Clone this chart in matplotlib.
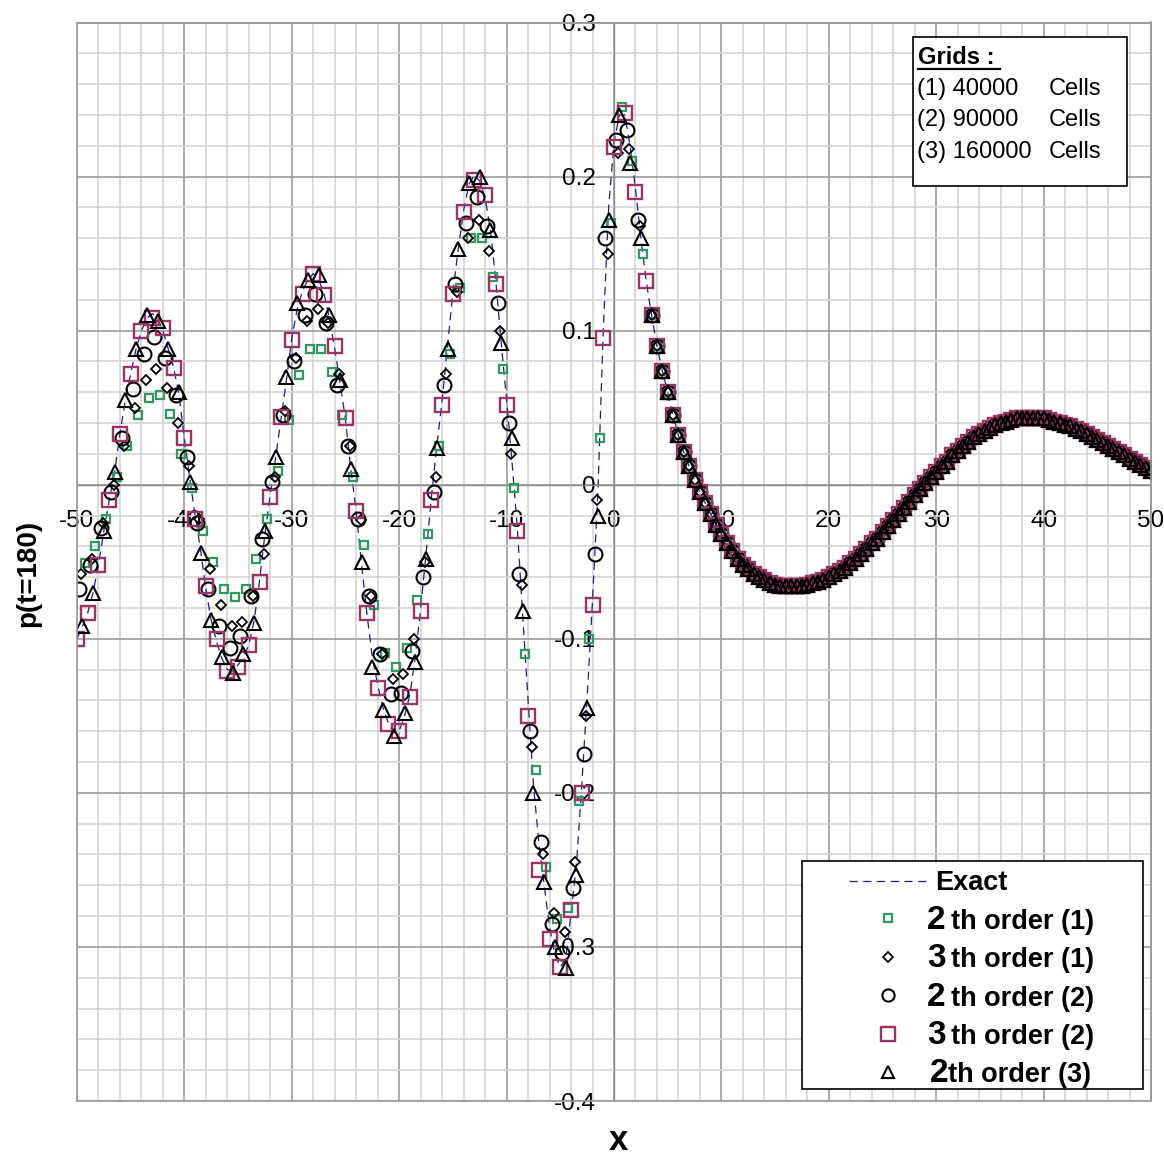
import numpy as np
import matplotlib
matplotlib.use('Agg')
import matplotlib.pyplot as plt
from matplotlib.ticker import MultipleLocator, FuncFormatter
from matplotlib.lines import Line2D
from matplotlib.patches import Rectangle

plt.rcParams['font.family'] = ['Liberation Sans', 'DejaVu Sans']
plt.rcParams['axes.unicode_minus'] = False

# ---------------- data ----------------
# exact solution, left part: x = -50 .. 3, step 0.5
exact_left = [
    -0.100, -0.092, -0.083, -0.070, -0.052, -0.030, -0.010, 0.008, 0.033, 0.055,
    0.072, 0.088, 0.100, 0.108, 0.111, 0.108, 0.100, 0.088, 0.076, 0.058,
    0.030, 0.004, -0.020, -0.042, -0.068, -0.088, -0.102, -0.113, -0.120, -0.121,
    -0.117, -0.112, -0.104, -0.088, -0.062, -0.032, -0.006, 0.018, 0.043, 0.068,
    0.095, 0.114, 0.126, 0.133, 0.137, 0.133, 0.124, 0.108, 0.088, 0.066,
    0.042, 0.010, -0.018, -0.052, -0.084, -0.112, -0.130, -0.145, -0.155, -0.161,
    -0.160, -0.150, -0.136, -0.112, -0.080, -0.045, -0.008, 0.025, 0.055, 0.090,
    0.125, 0.153, 0.178, 0.195, 0.201, 0.197, 0.186, 0.165, 0.132, 0.092,
    0.055, 0.015, -0.028, -0.085, -0.140, -0.195, -0.232, -0.260, -0.287, -0.305,
    -0.313, -0.308, -0.278, -0.247, -0.195, -0.138, -0.075, -0.005, 0.100, 0.180,
    0.222, 0.240, 0.240, 0.220, 0.192, 0.160, 0.132]
exact_left_x0 = -50.0

# common right part (all solutions coincide): x = 3.5 .. 50, step 0.5
tail = [
    0.110, 0.090, 0.074, 0.060, 0.045, 0.032, 0.021, 0.012, 0.003, -0.005,
    -0.012, -0.019, -0.026, -0.032, -0.038, -0.043, -0.048, -0.052, -0.055, -0.058,
    -0.060, -0.062, -0.064, -0.065, -0.066, -0.066, -0.066, -0.066, -0.066, -0.065,
    -0.064, -0.063, -0.062, -0.060, -0.058, -0.056, -0.054, -0.051, -0.048, -0.045,
    -0.042, -0.038, -0.035, -0.031, -0.027, -0.023, -0.019, -0.015, -0.011, -0.007,
    -0.003, 0.001, 0.005, 0.008, 0.012, 0.015, 0.019, 0.022, 0.025, 0.028,
    0.031, 0.033, 0.035, 0.037, 0.039, 0.040, 0.041, 0.042, 0.043, 0.043,
    0.043, 0.043, 0.043, 0.043, 0.042, 0.041, 0.040, 0.039, 0.038, 0.036,
    0.035, 0.033, 0.031, 0.029, 0.027, 0.025, 0.023, 0.021, 0.019, 0.017,
    0.015, 0.013, 0.011, 0.009]
tail_x0 = 3.5

# 2th order (1): x from -49.3, step 1
green_x0 = -49.3
green_y = [
    -0.051, -0.040, -0.022, 0.005, 0.025, 0.045, 0.056, 0.058, 0.046, 0.020,
    -0.002, -0.030, -0.050, -0.068, -0.073, -0.068, -0.048, -0.022, 0.009, 0.042,
    0.071, 0.088, 0.088, 0.073, 0.045, 0.005, -0.039, -0.078, -0.109, -0.118,
    -0.106, -0.075, -0.032, 0.025, 0.085, 0.128, 0.160, 0.160, 0.135, 0.075,
    -0.002, -0.110, -0.185, -0.248, -0.282, -0.275, -0.205, -0.100, 0.030, 0.170,
    0.245, 0.210, 0.150]

# 3th order (1): x from -49.6, step 1
diamond_x0 = -49.6
diamond_y = [
    -0.058, -0.048, -0.025, 0.000, 0.025, 0.050, 0.068, 0.075, 0.063, 0.040,
    0.012, -0.022, -0.055, -0.078, -0.092, -0.089, -0.072, -0.045, 0.005, 0.048,
    0.082, 0.106, 0.114, 0.105, 0.072, 0.025, -0.023, -0.072, -0.110, -0.126,
    -0.123, -0.100, -0.050, 0.005, 0.072, 0.125, 0.160, 0.172, 0.152, 0.100,
    0.020, -0.065, -0.170, -0.240, -0.278, -0.290, -0.245, -0.150, -0.010, 0.150,
    0.215, 0.218, 0.168]

# 2th order (2): x from -49.8, step 1
circle_x0 = -49.8
circle_y = [
    -0.068, -0.052, -0.028, -0.005, 0.030, 0.062, 0.085, 0.096, 0.082, 0.058,
    0.018, -0.025, -0.068, -0.092, -0.106, -0.098, -0.072, -0.035, 0.002, 0.045,
    0.080, 0.110, 0.124, 0.105, 0.065, 0.025, -0.022, -0.072, -0.110, -0.136,
    -0.135, -0.108, -0.060, -0.005, 0.065, 0.130, 0.170, 0.187, 0.168, 0.118,
    0.040, -0.058, -0.160, -0.232, -0.285, -0.304, -0.262, -0.175, -0.045, 0.160,
    0.224, 0.230, 0.172]

# 3th order (2): x from -50, step 1
magenta_x0 = -50.0
magenta_y = [
    -0.100, -0.083, -0.052, -0.010, 0.033, 0.072, 0.100, 0.108, 0.102, 0.076,
    0.030, -0.022, -0.066, -0.100, -0.121, -0.118, -0.104, -0.063, -0.008, 0.044,
    0.094, 0.124, 0.137, 0.123, 0.090, 0.043, -0.017, -0.083, -0.132, -0.155,
    -0.160, -0.138, -0.082, -0.010, 0.052, 0.124, 0.177, 0.198, 0.188, 0.130,
    0.052, -0.030, -0.150, -0.250, -0.295, -0.313, -0.276, -0.200, -0.078, 0.095,
    0.219, 0.241, 0.190, 0.132]

# 2th order (3): x from -49.5, step 1
triangle_x0 = -49.5
triangle_y = [
    -0.092, -0.070, -0.030, 0.008, 0.055, 0.088, 0.110, 0.106, 0.088, 0.060,
    0.002, -0.044, -0.088, -0.112, -0.122, -0.110, -0.090, -0.030, 0.018, 0.070,
    0.118, 0.133, 0.136, 0.110, 0.068, 0.010, -0.050, -0.118, -0.146, -0.163,
    -0.148, -0.115, -0.048, 0.024, 0.088, 0.153, 0.196, 0.200, 0.165, 0.092,
    0.030, -0.082, -0.200, -0.258, -0.300, -0.314, -0.253, -0.145, -0.020, 0.172,
    0.240, 0.209, 0.160]

x_ticks = [-50, -40, -30, -20, -10, 0, 10, 20, 30, 40, 50]
y_ticks = [-0.4, -0.3, -0.2, -0.1, 0.0, 0.1, 0.2, 0.3]

grid_cells = ['(1) 40000', '(2) 90000', '(3) 160000']
legend_digits = ['2', '3', '2', '3', '2']
legend_texts = ['th order (1)', 'th order (1)', 'th order (2)', 'th order (2)', 'th order (3)']

# ---------------- figure ----------------
W, H = 1164, 1161
fig = plt.figure(figsize=(W / 100, H / 100), dpi=100)
fig.patch.set_facecolor('white')


def fx(p):
    return p / W


def fy(p):
    return 1 - p / H


ax = fig.add_axes([fx(77), fy(1101), (1151 - 77) / W, (1101 - 22.5) / H])
ax.set_xlim(-50, 50)
ax.set_ylim(-0.4, 0.3)

GREEN = '#2f9a60'
PLUM = '#9b3366'
NAVY = '#1c1c96'

# exact line
ex_y = np.array(exact_left + tail)
ex_x = np.concatenate([exact_left_x0 + 0.5 * np.arange(len(exact_left)),
                       tail_x0 + 0.5 * np.arange(len(tail))])
ax.plot(ex_x, ex_y, color=NAVY, lw=0.9, linestyle=(0, (6.5, 4.5)), zorder=2)

tail_x = tail_x0 + 0.5 * np.arange(len(tail))


def series(x0, ys):
    x = np.concatenate([x0 + np.arange(len(ys)), tail_x])
    y = np.concatenate([np.array(ys), np.array(tail)])
    return x, y


styles = [
    (green_x0, green_y, dict(marker='s', ms=6.2, mec=GREEN, mew=1.6)),
    (diamond_x0, diamond_y, dict(marker='D', ms=4.7, mec='black', mew=1.3)),
    (circle_x0, circle_y, dict(marker='o', ms=10.0, mec='black', mew=1.5)),
    (magenta_x0, magenta_y, dict(marker='s', ms=10.6, mec=PLUM, mew=1.7)),
    (triangle_x0, triangle_y, dict(marker='^', ms=9.8, mec='black', mew=1.5)),
]
for i, (x0, ys, st) in enumerate(styles):
    x, y = series(x0, ys)
    ax.plot(x, y, linestyle='none', mfc='none', zorder=3 + i, **st)

# axes styling
ax.spines['left'].set_position(('data', 0))
ax.spines['bottom'].set_position(('data', 0))
for s in ['left', 'bottom']:
    ax.spines[s].set_color('#8c8c8c')
    ax.spines[s].set_linewidth(1.0)
for s in ['top', 'right']:
    ax.spines[s].set_color('#9a9a9a')
    ax.spines[s].set_linewidth(1.2)

ax.set_xticks(x_ticks)
ax.set_yticks(y_ticks)
ax.xaxis.set_minor_locator(MultipleLocator(2))
ax.yaxis.set_minor_locator(MultipleLocator(0.02))
ax.xaxis.set_major_formatter(FuncFormatter(lambda v, p: f'{v:g}'))
ax.yaxis.set_major_formatter(FuncFormatter(lambda v, p: f'{round(v, 2):g}'))
ax.tick_params(which='both', length=0)
ax.tick_params(axis='x', labelsize=17.5, pad=18, colors='black')
ax.tick_params(axis='y', labelsize=17.5, pad=13, colors='black')
ax.grid(which='minor', color='#d4d4d4', lw=1.2)
ax.grid(which='major', color='#9c9c9c', lw=1.2)
ax.set_axisbelow(True)

# outer frame for left / bottom edges
fig.add_artist(Rectangle((fx(77), fy(1101)), (1151 - 77) / W, (1101 - 22.5) / H,
                         transform=fig.transFigure, fill=False,
                         edgecolor='#9a9a9a', lw=1.2, zorder=0.5))

# axis titles
fig.text(fx(28), fy(573), 'p(t=180)', rotation=90, ha='center', va='center',
         fontsize=20, fontweight='bold')
fig.text(fx(618), fy(1141), 'x', ha='center', va='center', fontsize=25,
         fontweight='bold')

# ---------------- "Grids" box ----------------
fig.add_artist(Rectangle((fx(913), fy(186)), (1127 - 913) / W, (186 - 37) / H,
                         transform=fig.transFigure, facecolor='white',
                         edgecolor='black', lw=1.2, zorder=4))
fig.text(fx(918), fy(64), 'Grids :', fontsize=17, fontweight='bold',
         va='baseline', ha='left', zorder=5)
fig.add_artist(Line2D([fx(918), fx(1000)], [fy(68.5), fy(68.5)],
                      transform=fig.transFigure, color='black', lw=1.6, zorder=5))
for k, lab in enumerate(grid_cells):
    base = 95 + 31.3 * k
    fig.text(fx(917), fy(base), lab, fontsize=17, va='baseline', ha='left', zorder=5)
    fig.text(fx(1049), fy(base), 'Cells', fontsize=17, va='baseline', ha='left', zorder=5)

# ---------------- legend box ----------------
fig.add_artist(Rectangle((fx(802), fy(1089)), (1143 - 802) / W, (1089 - 861) / H,
                         transform=fig.transFigure, facecolor='white',
                         edgecolor='black', lw=1.2, zorder=4))
fig.add_artist(Line2D([fx(849), fx(928)], [fy(881), fy(881)],
                      transform=fig.transFigure, color=NAVY, lw=0.9,
                      linestyle=(0, (6.5, 4.5)), zorder=5))
fig.text(fx(935), fy(890), 'Exact', fontsize=19.5, fontweight='bold',
         va='baseline', ha='left', zorder=5)

leg_marker_sizes = [5.2, 4.6, 8.8, 9.4, 8.2]
for k in range(5):
    st = dict(styles[k][2])
    st['ms'] = leg_marker_sizes[k]
    yc = 918 + 38.5 * k
    fig.add_artist(Line2D([fx(888)], [fy(yc)], transform=fig.transFigure,
                          linestyle='none', mfc='none', zorder=5, **st))
    base = 929 + 38.3 * k
    dx = 930 if k == 4 else 927
    tx = 948 if k == 4 else 951
    fig.text(fx(dx), fy(base), legend_digits[k], fontsize=24, fontweight='bold',
             va='baseline', ha='left', zorder=5)
    fig.text(fx(tx), fy(base), legend_texts[k], fontsize=19.5, fontweight='bold',
             va='baseline', ha='left', zorder=5)

fig.savefig('out.png', dpi=100, facecolor='white')
